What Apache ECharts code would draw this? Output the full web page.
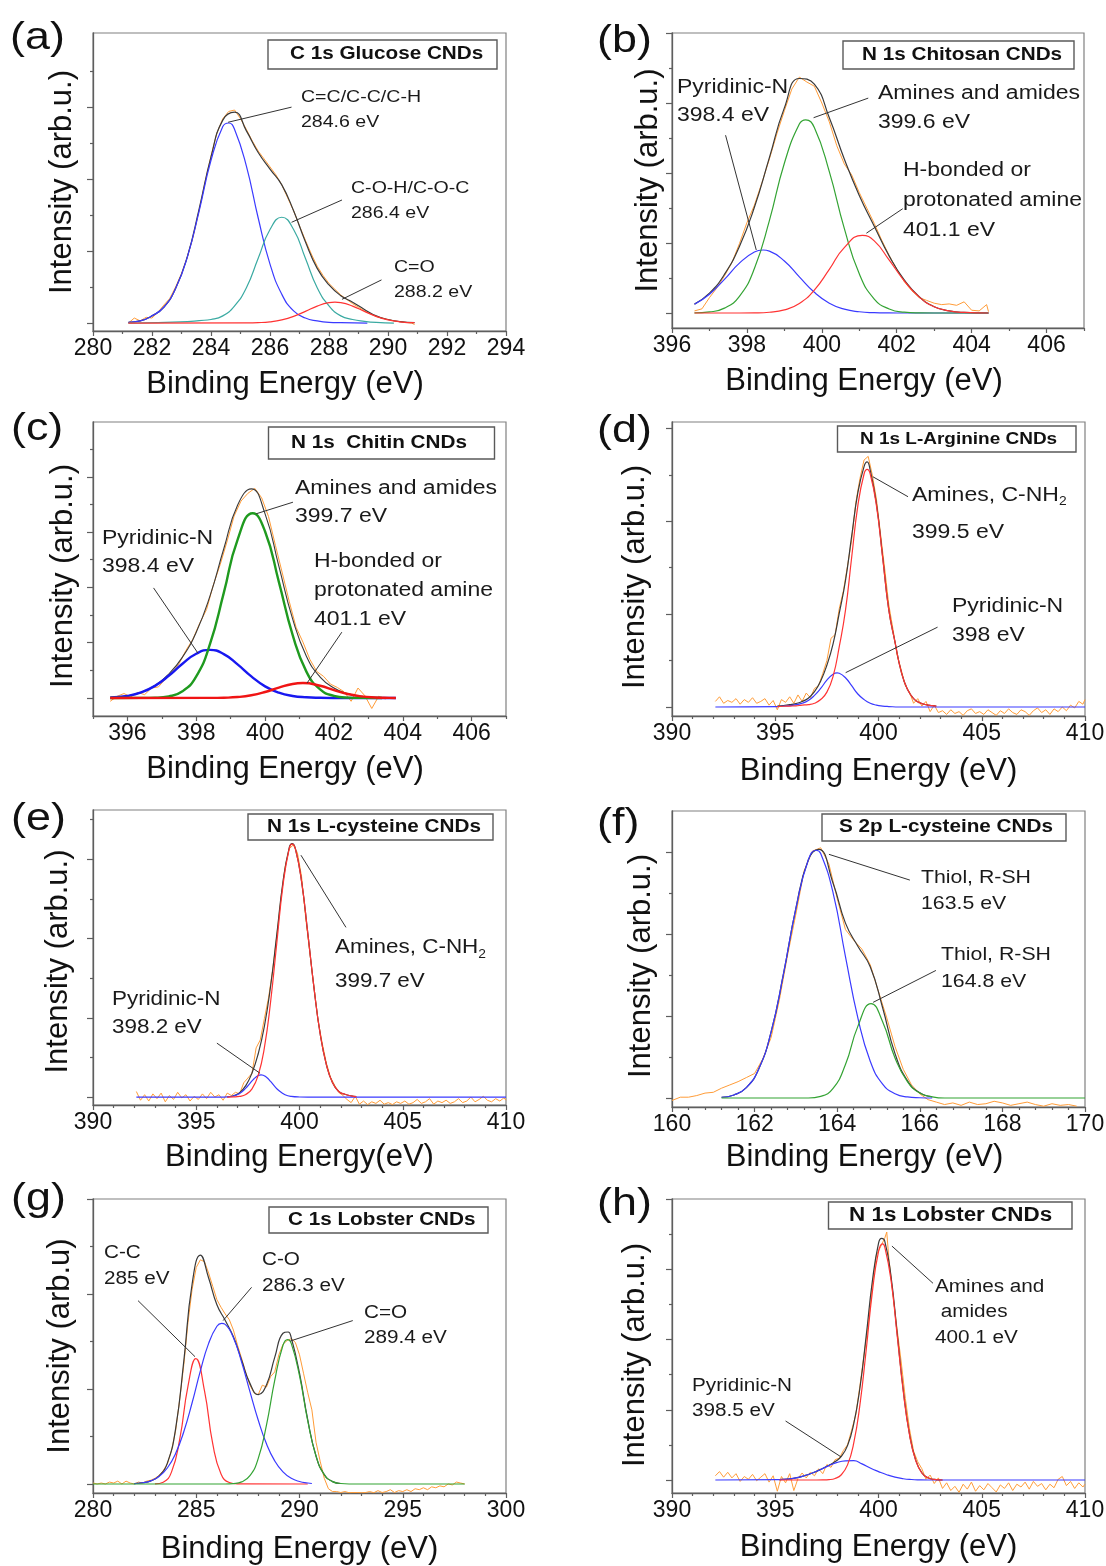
<!DOCTYPE html>
<html><head><meta charset="utf-8">
<script src="https://cdn.jsdelivr.net/npm/echarts/dist/echarts.min.js"></script>
<style>html,body{margin:0;padding:0;background:#fff}#c{width:1106px;height:1566px}</style>
</head><body><div id="c"></div>
<script>
// ===================== DATA =====================
// (a) C 1s Glucose CNDs
const aRaw = [[281.2,0.0],[281.4,0.7],[281.6,0.3],[281.8,0.8],[282.0,0.7],[282.2,1.5],[282.4,2.5],[282.6,3.4],[282.8,5.0],[283.0,6.9],[283.2,9.2],[283.4,12.1],[283.6,15.7],[283.8,19.6],[284.0,23.2],[284.2,26.4],[284.4,28.4],[284.6,29.4],[284.8,29.6],[285.0,28.4],[285.2,26.9],[285.4,25.3],[285.6,23.9],[285.8,22.8],[286.0,21.7],[286.2,20.6],[286.4,19.2],[286.6,17.4],[286.8,15.6],[287.0,13.5],[287.2,11.5],[287.4,9.6],[287.6,7.9],[287.8,6.6],[288.0,5.5],[288.2,4.7],[288.4,3.9],[288.6,3.3],[288.8,2.7],[289.0,2.2],[289.2,1.7],[289.4,1.3],[289.6,0.9],[289.8,0.7],[290.0,0.5],[290.2,0.3],[290.4,0.2],[290.6,0.1],[290.8,0.0],[290.9,-0.2]];
const aFit = [[281.2,0.1],[281.6,0.3],[282.0,1.0],[282.4,2.2],[282.8,4.8],[283.2,9.25],[283.6,15.9],[284.0,23.1],[284.4,28.2],[284.8,29.3],[285.2,26.7],[285.6,23.7],[286.0,21.4],[286.4,19.2],[286.8,15.6],[287.2,11.3],[287.6,7.6],[288.0,5.3],[288.4,3.8],[288.8,2.9],[289.2,1.9],[289.6,1.0],[290.0,0.5],[290.4,0.2],[290.9,0.05]];
const aBlue = [[281.2,0.1],[281.6,0.3],[282.0,1.0],[282.4,2.2],[282.8,4.8],[283.2,9.2],[283.6,15.6],[284.0,22.6],[284.4,27.3],[284.6,27.8],[284.8,26.9],[285.2,21.8],[285.6,14.6],[286.0,8.2],[286.4,4.0],[286.8,1.7],[287.2,0.7],[287.6,0.3],[288.0,0.1],[288.4,0.05],[289.3,0.0]];
const aTeal = [[281.2,0],[283.2,0.2],[283.6,0.35],[284.0,0.5],[284.4,1.0],[284.8,2.4],[285.2,4.9],[285.6,9.0],[286.0,13.0],[286.4,14.7],[286.8,13.0],[287.2,9.0],[287.6,4.9],[288.0,2.4],[288.4,1.0],[288.8,0.5],[289.2,0.25],[289.6,0.1],[290.2,0]];
const aRed = [[281.2,0],[285.2,0.02],[285.6,0.06],[286.0,0.18],[286.4,0.45],[286.8,0.93],[287.2,1.63],[287.6,2.36],[288.0,2.83],[288.2,2.9],[288.4,2.83],[288.8,2.36],[289.2,1.63],[289.6,0.93],[290.0,0.45],[290.4,0.18],[290.9,0.05]];
const aXTicks = [280,282,284,286,288,290,292,294];
const aArrows = [[[286.73,30.0],[284.58,27.9]],[[288.44,17.1],[286.73,14.0]],[[289.78,6.0],[288.44,3.3]]];

// (b) N 1s Chitosan CNDs
const bRaw = [[396.6,0.3],[396.8,0.6],[397.0,2.2],[397.2,3.6],[397.4,5.3],[397.6,7.2],[397.8,9.9],[398.0,12.9],[398.2,15.4],[398.4,18.6],[398.6,22.0],[398.8,25.6],[399.0,28.9],[399.2,32.0],[399.4,33.7],[399.6,33.0],[399.8,32.4],[400.0,30.0],[400.2,27.3],[400.4,23.9],[400.6,21.3],[400.8,19.7],[401.0,17.2],[401.2,15.0],[401.4,12.8],[401.6,10.4],[401.8,8.2],[402.0,6.3],[402.2,4.5],[402.4,3.2],[402.6,2.2],[402.8,1.8],[403.0,1.4],[403.2,1.2],[403.4,1.3],[403.6,1.1],[403.8,1.6],[404.0,0.4],[404.2,0.3],[404.4,1.2],[404.45,0.2]];
const bFit = [[396.6,1.27],[397.0,2.84],[397.4,5.51],[397.8,9.51],[398.2,15.1],[398.6,22.2],[399.0,29.3],[399.4,33.5],[399.8,32.7],[400.2,27.9],[400.6,22.0],[401.0,16.8],[401.4,12.4],[401.8,8.13],[402.2,4.72],[402.6,2.32],[403.0,0.9],[403.4,0.3],[403.8,0.08],[404.45,0.0]];
const bBlue = [[396.6,1.24],[397.0,2.68],[397.4,4.81],[397.8,7.12],[398.2,8.72],[398.43,9.0],[398.6,8.85],[399.0,7.43],[399.4,5.16],[399.8,2.96],[400.2,1.41],[400.6,0.55],[401.0,0.18],[401.4,0.05],[401.8,0.01],[402.2,0],[404.45,0]];
const bGreen = [[396.6,0.03],[397.0,0.16],[397.4,0.70],[397.8,2.39],[398.2,6.35],[398.6,13.2],[399.0,21.4],[399.4,27.0],[399.57,27.6],[399.8,26.5],[400.2,20.2],[400.6,12.1],[401.0,5.6],[401.4,2.0],[401.8,0.57],[402.2,0.12],[402.6,0.02],[403.0,0],[404.45,0]];
const bRed = [[396.6,0],[397.8,0],[398.2,0.02],[398.6,0.11],[399.0,0.44],[399.4,1.36],[399.8,3.28],[400.2,6.24],[400.6,9.35],[401.08,11.1],[401.4,10.3],[401.8,7.55],[402.2,4.6],[402.6,2.3],[403.0,0.9],[403.4,0.3],[403.8,0.08],[404.45,0]];
const bXTicks = [396,398,400,402,404,406];
const bArrows = [[[397.43,25.4],[398.25,9.0]],[[401.24,30.7],[399.78,27.9]],[[402.16,14.9],[401.19,11.4]]];

// (c) N 1s Chitin CNDs
const cRaw = [[395.5,-0.6],[395.7,0.3],[395.9,0.8],[396.1,0.2],[396.3,1.0],[396.5,0.6],[396.7,1.8],[396.9,2.0],[397.1,3.4],[397.3,4.6],[397.5,6.2],[397.7,8.6],[397.9,10.6],[398.1,13.5],[398.3,16.0],[398.5,20.5],[398.7,24.2],[398.9,28.4],[399.1,32.9],[399.3,35.6],[399.5,37.0],[399.7,37.9],[399.9,36.2],[400.1,32.8],[400.3,27.6],[400.5,22.6],[400.7,17.5],[400.9,12.8],[401.1,10.1],[401.3,7.0],[401.5,4.8],[401.7,3.9],[401.9,2.5],[402.1,1.9],[402.3,1.1],[402.5,-0.6],[402.7,1.8],[402.9,0.4],[403.1,-1.9],[403.3,0.3],[403.5,-0.2]];
const cFit = [[395.6,0.12],[396.0,0.38],[396.4,1.01],[396.8,2.24],[397.2,4.30],[397.6,7.39],[398.0,11.9],[398.4,18.47],[398.8,26.98],[399.2,34.85],[399.6,37.8],[400.0,33.28],[400.4,23.83],[400.8,14.29],[401.2,7.56],[401.6,3.78],[402.0,1.82],[402.4,0.79],[402.8,0.29],[403.2,0.09]];
const cBlue = [[395.5,0.1],[396.0,0.38],[396.4,1.0],[396.8,2.19],[397.2,4.01],[397.6,6.19],[398.0,8.0],[398.4,8.7],[398.8,7.93],[399.2,6.08],[399.6,3.91],[400.0,2.1],[400.4,0.96],[400.8,0.36],[401.2,0.12],[401.6,0.03],[402.0,0],[403.8,0]];
const cGreen = [[395.5,0],[396.4,0.01],[396.8,0.05],[397.2,0.29],[397.6,1.2],[398.0,3.9],[398.4,9.76],[398.8,19.0],[399.2,28.6],[399.64,33.4],[400.0,30.1],[400.4,21.0],[400.8,11.4],[401.2,4.77],[401.6,1.54],[402.0,0.39],[402.4,0.07],[402.8,0.01],[403.4,0]];
const cRed = [[395.5,0],[398.4,0.01],[398.8,0.05],[399.2,0.17],[399.6,0.49],[400.0,1.08],[400.4,1.87],[400.8,2.53],[401.1,2.7],[401.6,2.21],[402.0,1.43],[402.4,0.72],[402.8,0.28],[403.2,0.09],[403.6,0.02],[403.8,0]];
const cXTicks = [396,398,400,402,404,406];
const cArrows = [[[400.81,35.4],[399.74,33.3]],[[396.76,19.9],[398.05,8.1]],[[402.23,11.9],[401.22,2.7]]];

// (d) N 1s L-Arginine CNDs
const dRaw = [[392.1,0.6],[392.3,1.1],[392.5,0.4],[392.7,0.7],[392.9,0.5],[393.1,0.9],[393.3,0.3],[393.5,0.8],[393.7,0.5],[393.9,1.0],[394.1,0.4],[394.3,0.6],[394.5,0.9],[394.7,0.2],[394.9,0.7],[395.1,-0.3],[395.3,0.8],[395.5,0.5],[395.7,1.1],[395.9,0.4],[396.1,1.3],[396.3,0.6],[396.5,1.5],[396.7,1.0],[396.9,2.0],[397.1,2.3],[397.3,3.6],[397.5,5.0],[397.7,7.4],[397.9,7.8],[398.1,10.6],[398.3,12.5],[398.5,15.2],[398.7,18.0],[398.9,22.0],[399.1,24.6],[399.3,26.6],[399.5,27.0],[399.7,25.0],[399.9,22.4],[400.1,18.6],[400.3,14.9],[400.5,11.0],[400.7,8.4],[400.9,5.6],[401.1,4.0],[401.3,2.3],[401.5,1.6],[401.7,0.4],[401.9,0.9],[402.1,0.1],[402.3,0.6],[402.5,-0.5],[402.7,0.2],[402.9,-0.6],[403.1,-0.4],[403.3,-0.8],[403.5,-0.3],[403.7,-0.7],[403.9,-0.5],[404.1,-0.9],[404.3,-0.4],[404.5,-0.2],[404.7,-0.7],[404.9,-0.5],[405.1,-0.8],[405.3,-0.3],[405.5,-0.6],[405.7,-0.9],[405.9,-0.4],[406.1,-0.7],[406.3,-0.2],[406.5,-0.6],[406.7,-0.8],[406.9,-0.3],[407.1,-0.5],[407.3,-0.9],[407.5,-0.4],[407.7,-0.1],[407.9,-0.6],[408.1,-0.3],[408.3,-0.8],[408.5,-0.2],[408.7,-0.5],[408.9,0.0],[409.1,-0.4],[409.3,0.2],[409.5,-0.1],[409.7,0.6],[409.9,0.3],[410.0,0.8]];
const dFit = [[395.1,0.1],[395.4,0.16],[395.7,0.25],[396.0,0.37],[396.3,0.6],[396.6,0.95],[396.9,1.65],[397.2,2.8],[397.5,4.5],[397.8,6.8],[398.1,10.1],[398.4,13.6],[398.7,18.4],[399.0,23.1],[399.3,25.9],[399.45,26.4],[399.6,25.5],[399.9,21.9],[400.2,16.2],[400.5,10.45],[400.8,7.0],[401.1,3.8],[401.4,1.9],[401.7,0.9],[402.0,0.45],[402.3,0.25],[402.6,0.15],[402.8,0.1]];
const dBlue = [[392.1,0],[395.1,0.05],[395.7,0.15],[396.0,0.25],[396.3,0.4],[396.6,0.7],[396.9,1.25],[397.2,2.0],[397.5,2.89],[397.8,3.53],[398.0,3.67],[398.1,3.63],[398.4,3.15],[398.7,2.29],[399.0,1.4],[399.3,0.8],[399.6,0.4],[399.9,0.2],[400.2,0.1],[400.5,0.05],[401.0,0],[410,0]];
const dRed = [[395.1,0.05],[395.4,0.08],[395.7,0.1],[396.0,0.12],[396.3,0.2],[396.6,0.25],[396.9,0.4],[397.2,0.8],[397.5,1.6],[397.8,3.3],[398.1,6.5],[398.4,10.4],[398.7,16.1],[399.0,21.7],[399.3,25.1],[399.45,25.6],[399.6,25.1],[399.9,21.7],[400.2,16.1],[400.5,10.4],[400.8,7.0],[401.1,3.8],[401.4,1.9],[401.7,0.9],[402.0,0.45],[402.3,0.25],[402.6,0.15],[402.8,0.1]];
const dXTicks = [390,395,400,405,410];
const dArrows = [[[401.43,22.65],[399.73,24.8]],[[402.86,8.6],[398.41,3.7]]];

// (e) N 1s L-cysteine CNDs
const eRaw = [[392.1,0.7],[392.3,-0.4],[392.5,0.3],[392.7,-0.5],[392.9,0.4],[393.1,-0.2],[393.3,0.5],[393.5,-0.6],[393.7,0.2],[393.9,-0.3],[394.1,0.6],[394.3,-0.1],[394.5,0.3],[394.7,-0.5],[394.9,0.1],[395.1,-0.3],[395.3,0.4],[395.5,-0.2],[395.7,0.6],[395.9,0.0],[396.1,0.3],[396.3,-0.4],[396.5,0.5],[396.7,0.2],[396.9,0.6],[397.1,0.4],[397.3,1.8],[397.5,2.4],[397.7,3.0],[397.9,6.2],[398.1,7.2],[398.3,9.9],[398.5,12.5],[398.7,16.0],[398.9,20.3],[399.1,25.0],[399.3,29.0],[399.5,31.3],[399.7,31.8],[399.9,30.8],[400.1,27.8],[400.3,22.6],[400.5,18.2],[400.7,13.9],[400.9,9.6],[401.1,6.8],[401.3,4.3],[401.5,2.5],[401.7,1.5],[401.9,0.6],[402.1,0.2],[402.3,-0.3],[402.5,-0.7],[402.7,0.1],[402.9,-0.9],[403.1,-0.5],[403.3,-0.95],[403.5,-0.6],[403.7,-0.8],[403.9,-0.4],[404.1,-0.9],[404.3,-0.7],[404.5,-0.95],[404.7,-0.6],[404.9,-0.8],[405.1,-0.5],[405.3,-0.9],[405.5,-0.7],[405.7,-0.3],[405.9,-0.8],[406.1,-0.6],[406.3,-0.2],[406.5,-0.9],[406.7,-0.5],[406.9,-0.7],[407.1,-0.4],[407.3,-0.8],[407.5,-0.6],[407.7,-0.2],[407.9,-0.7],[408.1,-0.5],[408.3,0.0],[408.5,-0.6],[408.7,-0.3],[408.9,0.1],[409.1,-0.4],[409.3,-0.6],[409.5,-0.2],[409.7,-0.5],[409.9,-0.1],[410.0,-0.4]];
const eFit = [[396.5,0.03],[396.8,0.16],[397.1,0.55],[397.4,1.45],[397.7,3.04],[398.0,5.46],[398.3,8.93],[398.6,13.97],[398.9,20.48],[399.2,27.15],[399.5,31.43],[399.64,31.95],[399.8,31.34],[400.1,27.2],[400.4,20.7],[400.7,13.8],[401.0,8.0],[401.3,4.1],[401.6,1.8],[401.9,0.7],[402.2,0.35],[402.5,0.15],[402.75,0.05]];
const eBlue = [[392.1,0],[396.2,0],[396.5,0.03],[396.8,0.14],[397.1,0.46],[397.4,1.12],[397.6,1.72],[397.8,2.31],[398.0,2.71],[398.14,2.8],[398.4,2.5],[398.6,1.97],[398.8,1.35],[399.0,0.82],[399.3,0.3],[399.6,0.08],[400.0,0.01],[400.4,0],[410,0]];
const eRed = [[396.5,0],[396.8,0.02],[397.1,0.09],[397.4,0.33],[397.7,1.04],[398.0,2.75],[398.3,6.23],[398.6,12.0],[398.9,19.4],[399.2,26.7],[399.5,31.3],[399.64,31.9],[399.8,31.3],[400.1,27.2],[400.4,20.7],[400.7,13.8],[401.0,8.0],[401.3,4.1],[401.6,1.8],[401.9,0.7],[402.2,0.35],[402.5,0.15],[402.75,0.05]];
const eXTicks = [390,395,400,405,410];
const eArrows = [[[402.25,21.4],[400.07,30.5]],[[396.0,6.8],[398.09,3.0]]];

// (f) S 2p L-cysteine CNDs
const fRaw = [[160.0,-0.3],[160.2,0.1],[160.4,0.1],[160.6,0.3],[160.8,0.6],[161.0,0.7],[161.2,1.2],[161.4,1.6],[161.6,2.0],[161.8,2.5],[162.0,3.0],[162.2,4.8],[162.4,7.4],[162.6,12.0],[162.8,17.5],[163.0,22.5],[163.2,27.8],[163.4,30.2],[163.6,30.6],[163.8,28.6],[164.0,24.4],[164.2,20.6],[164.4,19.3],[164.6,18.2],[164.8,16.3],[165.0,13.0],[165.2,9.8],[165.4,6.3],[165.6,3.5],[165.8,1.6],[166.0,0.5],[166.2,-0.2],[166.4,-0.5],[166.6,-0.8],[166.8,-0.6],[167.0,-0.9],[167.2,-0.5],[167.4,-0.8],[167.6,-0.7],[167.8,-0.4],[168.0,-0.6],[168.2,-0.9],[168.4,-0.7],[168.6,-0.5],[168.8,-0.8],[169.0,-1.0],[169.2,-0.7],[169.4,-0.9],[169.6,-0.8],[169.8,-1.0]];
const fFit = [[161.2,0.09],[161.5,0.37],[161.8,1.27],[162.1,3.54],[162.4,8.09],[162.7,15.2],[163.0,23.2],[163.3,29.1],[163.55,30.4],[163.9,26.27],[164.2,21.39],[164.5,18.56],[164.8,16.05],[165.1,11.04],[165.4,5.43],[165.7,2.13],[166.0,0.63],[166.3,0.15]];
const fBlue = [[161.2,0.09],[161.5,0.37],[161.8,1.27],[162.1,3.54],[162.4,8.09],[162.7,15.2],[163.0,23.2],[163.3,29.1],[163.49,30.3],[163.6,29.9],[163.9,25.1],[164.2,17.3],[164.5,9.8],[164.8,4.5],[165.1,1.7],[165.4,0.53],[165.7,0.13],[166.0,0.03],[166.3,0]];
const fGreen = [[161.2,0],[163.3,0],[163.6,0.2],[163.9,1.17],[164.2,4.09],[164.5,8.76],[164.82,11.55],[165.1,9.34],[165.4,4.9],[165.7,2.0],[166.0,0.6],[166.3,0.15],[166.6,0],[170,0]];
const fXTicks = [160,162,164,166,168,170];
const fArrows = [[[165.76,26.65],[163.8,29.8]],[[166.39,15.6],[164.87,11.7]]];

// (g) C 1s Lobster CNDs
const gRaw = [[280.0,0.1],[280.2,0.0],[280.4,0.1],[280.6,0.0],[280.8,0.2],[281.0,0.1],[281.2,0.3],[281.4,0.0],[281.6,0.3],[281.8,0.1],[282.0,0.0],[282.2,0.2],[282.4,0.1],[282.6,0.3],[282.8,0.4],[283.0,0.6],[283.2,0.9],[283.4,1.4],[283.6,2.1],[283.8,3.5],[284.0,5.6],[284.2,8.9],[284.4,12.6],[284.6,17.0],[284.8,20.5],[285.0,22.8],[285.2,23.6],[285.4,23.4],[285.6,22.2],[285.8,20.8],[286.0,19.4],[286.2,18.6],[286.4,17.9],[286.6,17.3],[286.8,16.2],[287.0,14.6],[287.2,13.2],[287.4,11.7],[287.6,10.4],[287.8,9.6],[288.0,9.4],[288.2,10.4],[288.4,10.2],[288.6,11.3],[288.8,11.8],[289.0,13.6],[289.2,14.7],[289.4,15.1],[289.6,15.3],[289.8,14.9],[290.0,13.6],[290.2,11.6],[290.4,9.6],[290.6,7.8],[290.8,4.4],[291.0,2.4],[291.2,0.6],[291.4,-0.5],[291.6,-0.8],[291.8,-0.8],[292.0,-0.9],[292.2,-0.8],[292.4,-0.92],[292.6,-0.9],[292.8,-0.9],[293.0,-0.92],[293.2,-0.9],[293.4,-0.8],[293.6,-0.92],[293.8,-0.7],[294.0,-0.9],[294.2,-0.8],[294.4,-0.6],[294.6,-0.9],[294.8,-0.7],[295.0,-0.8],[295.2,-0.6],[295.4,-0.8],[295.6,-0.5],[295.8,-0.6],[296.0,-0.4],[296.2,-0.6],[296.4,-0.3],[296.6,-0.4],[296.8,-0.2],[297.0,-0.3],[297.2,0.0],[297.4,-0.1],[297.6,0.2],[297.8,0.1],[298.0,0.0]];
const gFit = [[282.0,0.04],[282.4,0.13],[282.8,0.33],[283.2,0.85],[283.6,2.2],[284.0,5.81],[284.4,13.0],[284.8,21.05],[285.2,24.1],[285.6,21.68],[286.0,18.87],[286.4,17.23],[286.8,15.49],[287.2,13.02],[287.6,10.59],[288.0,9.4],[288.4,10.43],[288.8,13.33],[289.2,15.87],[289.45,16.0],[289.6,15.4],[290.0,11.66],[290.4,6.74],[290.8,2.95],[291.2,0.99],[291.6,0.25],[292.0,0.05]];
const gRed = [[283.0,0.02],[283.4,0.19],[283.8,1.25],[284.2,4.71],[284.6,10.3],[284.98,13.2],[285.4,9.79],[285.8,4.22],[286.2,1.06],[286.6,0.15],[287.0,0.01],[290.4,0]];
const gBlue = [[282.0,0.04],[282.4,0.13],[282.8,0.33],[283.2,0.79],[283.6,1.68],[284.0,3.22],[284.4,5.53],[284.8,8.55],[285.2,11.9],[285.6,14.8],[286.0,16.6],[286.23,16.9],[286.4,16.8],[286.8,15.4],[287.2,12.8],[287.6,9.72],[288.0,6.73],[288.4,4.23],[288.8,2.43],[289.2,1.27],[289.6,0.6],[290.0,0.26],[290.4,0.1],[290.6,0.05]];
const gGreen = [[280.0,0],[286.4,0],[286.8,0.04],[287.2,0.22],[287.6,0.87],[288.0,2.67],[288.4,6.2],[288.8,10.9],[289.2,14.6],[289.42,15.2],[289.6,14.8],[290.0,11.4],[290.4,6.64],[290.8,2.95],[291.2,0.99],[291.6,0.25],[292.0,0.05],[292.4,0],[298.0,0]];
const gXTicks = [280,285,290,295,300];
const gArrows = [[[282.18,19.3],[284.94,13.4]],[[287.68,20.7],[286.3,17.2]],[[292.58,17.2],[289.56,15.05]]];

// (h) N 1s Lobster CNDs
const hRaw = [[392.1,0.6],[392.3,1.2],[392.5,0.4],[392.7,1.1],[392.9,0.3],[393.1,0.9],[393.3,-0.2],[393.5,0.5],[393.7,0.1],[393.9,0.8],[394.1,-0.1],[394.3,0.4],[394.5,0.9],[394.7,-0.3],[394.9,0.6],[395.1,-1.6],[395.3,0.5],[395.5,-0.4],[395.7,0.9],[395.9,-1.5],[396.1,0.2],[396.3,1.0],[396.5,0.3],[396.7,1.1],[396.9,0.6],[397.1,1.6],[397.3,0.9],[397.5,2.2],[397.7,1.8],[397.9,2.9],[398.1,3.1],[398.3,4.2],[398.5,5.0],[398.7,7.1],[398.9,9.3],[399.1,13.4],[399.3,17.8],[399.5,22.0],[399.7,27.6],[399.9,32.0],[400.1,33.2],[400.3,34.4],[400.4,35.3],[400.5,31.6],[400.7,26.3],[400.9,21.5],[401.1,16.8],[401.3,11.6],[401.5,7.3],[401.7,4.1],[401.9,2.6],[402.1,1.6],[402.3,0.1],[402.5,0.7],[402.7,-0.5],[402.9,0.3],[403.1,-1.2],[403.3,-0.4],[403.5,-1.5],[403.7,-0.9],[403.9,-1.75],[404.1,-0.6],[404.3,-1.3],[404.5,-0.3],[404.7,-1.6],[404.9,-0.8],[405.1,-1.4],[405.3,-0.5],[405.5,-1.1],[405.7,-1.7],[405.9,-0.7],[406.1,-1.2],[406.3,-0.4],[406.5,-1.5],[406.7,-0.6],[406.9,-1.0],[407.1,-0.3],[407.3,-1.3],[407.5,-0.2],[407.7,-0.9],[407.9,-0.5],[408.1,-1.4],[408.3,-0.6],[408.5,-1.1],[408.7,0.1],[408.9,0.5],[409.1,-0.8],[409.3,-0.2],[409.5,-1.2],[409.7,-0.4],[409.9,-1.0],[410.0,-0.6]];
const hFit = [[395.2,0.05],[395.6,0.12],[396.0,0.3],[396.4,0.6],[396.8,1.0],[397.2,1.51],[397.6,2.1],[397.9,2.62],[398.2,3.37],[398.5,4.89],[398.8,7.99],[399.1,13.1],[399.4,20.4],[399.7,28.25],[400.0,33.7],[400.15,34.4],[400.3,34.05],[400.6,29.15],[400.9,21.0],[401.2,12.78],[401.5,6.55],[401.8,2.84],[402.1,1.02],[402.4,0.31],[402.7,0.08],[403.1,0]];
const hBlue = [[392.1,0],[395.2,0.05],[395.6,0.12],[396.0,0.3],[396.4,0.6],[396.8,1.0],[397.2,1.5],[397.6,2.05],[398.0,2.5],[398.4,2.72],[398.8,2.75],[399.2,2.3],[399.6,1.7],[400.0,1.2],[400.4,0.75],[400.8,0.4],[401.2,0.18],[401.6,0.07],[402.0,0.02],[402.4,0],[410,0]];
const hRed = [[395.2,0],[397.0,0],[397.3,0.01],[397.6,0.05],[397.9,0.22],[398.2,0.75],[398.5,2.15],[398.8,5.24],[399.1,10.7],[399.4,18.4],[399.7,26.7],[400.0,32.5],[400.19,33.6],[400.3,33.2],[400.6,28.6],[400.9,20.7],[401.2,12.6],[401.5,6.45],[401.8,2.79],[402.1,1.0],[402.4,0.31],[402.7,0.08],[403.1,0]];
const hXTicks = [390,395,400,405,410];
const hArrows = [[[402.64,28.0],[400.65,33.3]],[[395.5,8.4],[398.18,3.3]]];

// ===================== STYLE / LAYOUT =====================
const F = '"Liberation Sans", Arial, Helvetica, sans-serif';
const SX = 1.15;
const ORANGE = '#ff9c38', FIT = '#3a3a3a', BLUE = '#3a3aff', TEAL = '#3aaaa2', GREEN = '#33a333', RED = '#ff3333';
const AX = '#5e5e5e', FRAME = '#808080';

function minorTicks(min, max, step, majors) {
  const out = [];
  for (let v = min; v <= max + 1e-9; v += step) {
    const r = Math.round(v * 1000) / 1000;
    if (!majors.some(m => Math.abs(m - r) < 1e-6)) out.push(r);
  }
  return out;
}

const P = [
  {g:[93,33,413,298], x:[280,294], y:[-1.1,40.3], xt:aXTicks, xm:minorTicks(280,294,1,aXTicks), yt:[0,10,20,30], ym:[5,15,25,35],
   xn:'Binding Energy (eV)', xg:38, xs:29, yn:'Intensity (arb.u.)', yg:15, ys:0,
   s:[[aRaw,ORANGE,1,0],[aFit,FIT,1.2,1],[aBlue,BLUE,1.2,1],[aTeal,TEAL,1.2,1],[aRed,RED,1.2,1]], arrows:aArrows,
   lab:['(a)',10,38], box:[268,40,229,29,'C 1s Glucose CNDs',290,18],
   notes:[['C=C/C-C/C-H\n284.6 eV',301,84.5,17,25],['C-O-H/C-O-C\n286.4 eV',351,175.5,17,25],['C=O\n288.2 eV',394,254.5,17,25.5]]},
  {g:[672,33,412,295], x:[396,407], y:[-2.14,40], xt:bXTicks, xm:minorTicks(396,407,1,bXTicks), yt:[0,10,20,30,40], ym:[5,15,25,35],
   xn:'Binding Energy (eV)', xg:38, xs:28, yn:'Intensity (arb.u.)', yg:8, ys:0,
   s:[[bRaw,ORANGE,1,0],[bFit,FIT,1.2,1],[bBlue,BLUE,1.2,1],[bGreen,GREEN,1.2,1],[bRed,RED,1.2,1]], arrows:bArrows,
   lab:['(b)',597,41], box:[843,41,231,28,'N 1s Chitosan CNDs',862,18],
   notes:[['Pyridinic-N\n398.4 eV',677,73,20,28],['Amines and amides\n399.6 eV',878,79,20,29],['H-bonded or\nprotonated amine\n401.1 eV',903,155,20,30]]},
  {g:[93,422,413,294], x:[395,407], y:[-3.26,49.9], xt:cXTicks, xm:minorTicks(395,407,1,cXTicks), yt:[0,10,20,30,40], ym:[5,15,25,35,45],
   xn:'Binding Energy (eV)', xg:38, xs:29, yn:'Intensity (arb.u.)', yg:14, ys:7,
   s:[[cRaw,ORANGE,1,0],[cFit,FIT,1.1,1],[cBlue,'#1818f0',2.4,1],[cGreen,'#1f9a1f',2.4,1],[cRed,'#f01414',2.4,1]], arrows:cArrows,
   lab:['(c)',11,429], box:[268.5,427,226,32,'N 1s  Chitin CNDs',291,18],
   notes:[['Amines and amides\n399.7 eV',295,474,20,28],['Pyridinic-N\n398.4 eV',102,524,20,28],['H-bonded or\nprotonated amine\n401.1 eV',314,546.5,20,29]]},
  {g:[672,422,413,294], x:[390,410], y:[-0.97,30.7], xt:dXTicks, xm:minorTicks(390,410,1,dXTicks), yt:[0,10,20,30], ym:[5,15,25],
   xn:'Binding Energy (eV)', xg:40, xs:0, yn:'Intensity (arb.u.)', yg:21, ys:8,
   s:[[dRaw,ORANGE,1,0],[dFit,FIT,1.2,1],[dBlue,BLUE,1.2,1],[dRed,RED,1.2,1]], arrows:dArrows,
   lab:['(d)',597,431], box:[837.5,426,238.5,26,'N 1s L-Arginine CNDs',860,16.5],
   notes:[['Amines, C-NH{sub|2}\n399.5 eV',912,476.5,20,37],['Pyridinic-N\n398 eV',952,591.5,20,29]]},
  {g:[93,810,413,295], x:[390,410], y:[-1.0,36.2], xt:eXTicks, xm:minorTicks(390,410,1,eXTicks), yt:[0,10,20,30], ym:[5,15,25,35],
   xn:'Binding Energy(eV)', xg:37, xs:0, yn:'Intensity (arb.u.)', yg:19, ys:4,
   s:[[eRaw,ORANGE,1,0],[eFit,FIT,1.2,1],[eBlue,BLUE,1.2,1],[eRed,RED,1.2,1]], arrows:eArrows,
   lab:['(e)',11,819], box:[248,814,245,26,'N 1s L-cysteine CNDs',267,18],
   notes:[['Amines, C-NH{sub|2}\n399.7 eV',335,931,19.5,34],['Pyridinic-N\n398.2 eV',112,986,19.5,28]]},
  {g:[672,811,413,296], x:[160,170], y:[-1.1,35.1], xt:fXTicks, xm:minorTicks(160,170,0.4,fXTicks), yt:[0,10,20,30], ym:[5,15,25],
   xn:'Binding Energy (eV)', xg:35, xs:28, yn:'Intensity (arb.u.)', yg:15, ys:7,
   s:[[fRaw,ORANGE,1,0],[fFit,FIT,1.2,1],[fBlue,BLUE,1.2,1],[fGreen,GREEN,1.2,1]], arrows:fArrows,
   lab:['(f)',597,824], box:[822,814,244,27,'S 2p L-cysteine CNDs',839,18],
   notes:[['Thiol, R-SH\n163.5 eV',921,865,18.5,26],['Thiol, R-SH\n164.8 eV',941,941.5,18.5,27]]},
  {g:[93,1199,413,294], x:[280,300], y:[-0.95,30], xt:gXTicks, xm:minorTicks(280,300,1,gXTicks), yt:[0,10,20,30], ym:[5,15,25],
   xn:'Binding Energy (eV)', xg:41, xs:0, yn:'Intensity (arb.u)', yg:17, ys:0,
   s:[[gRaw,ORANGE,1,0],[gFit,FIT,1.2,1],[gRed,RED,1.2,1],[gBlue,BLUE,1.2,1],[gGreen,GREEN,1.2,1]], arrows:gArrows,
   lab:['(g)',11,1199], box:[269,1207,219,26,'C 1s Lobster CNDs',288,18],
   notes:[['C-C\n285 eV',104,1240,18,26],['C-O\n286.3 eV',262,1247,18,26],['C=O\n289.4 eV',364,1300.5,18,25]]},
  {g:[672,1199,413,294], x:[390,410], y:[-1.85,40], xt:hXTicks, xm:minorTicks(390,410,1,hXTicks), yt:[0,10,20,30,40], ym:[5,15,25,35],
   xn:'Binding Energy (eV)', xg:39, xs:0, yn:'Intensity (arb.u.)', yg:21, ys:9,
   s:[[hRaw,ORANGE,1,0],[hFit,FIT,1.2,1],[hBlue,BLUE,1.2,1],[hRed,RED,1.2,1]], arrows:hArrows,
   lab:['(h)',597,1204], box:[828.5,1202,243.5,27,'N 1s Lobster CNDs',849,19.5],
   notes:[['Amines and\n amides\n400.1 eV',935,1274,18,25.5],['Pyridinic-N\n398.5 eV',692,1373.5,18,25]]}
];

const option = {animation:false, backgroundColor:'#ffffff', grid:[], xAxis:[], yAxis:[], series:[], graphic:{elements:[]}};
const tickStyle = {color: AX, width: 1.2};

P.forEach((p, i) => {
  option.grid.push({left:p.g[0], top:p.g[1], width:p.g[2], height:p.g[3], show:true, borderColor:FRAME, borderWidth:1.2,
    backgroundColor:'transparent', containLabel:false, outerBoundsMode:'none'});
  option.xAxis.push({gridIndex:i, type:'value', min:p.x[0], max:p.x[1], position:'bottom',
    name:p.xn, nameLocation:'middle', nameGap:p.xg, nameMoveOverlap:false,
    nameTextStyle:{fontSize:31, fontFamily:F, color:'#111', padding:[0,p.xs,0,0]},
    axisLine:{show:true, onZero:false, lineStyle:{color:AX, width:1.3}},
    axisTick:{show:true, inside:false, length:5, customValues:p.xt, lineStyle:tickStyle},
    axisLabel:{show:true, customValues:p.xt, fontSize:23, fontFamily:F, color:'#111', margin:6, formatter:v => String(v)},
    splitLine:{show:false}, minorTick:{show:false}});
  option.xAxis.push({gridIndex:i, type:'value', min:p.x[0], max:p.x[1], position:'bottom',
    axisLine:{show:false, onZero:false}, axisTick:{show:true, inside:false, length:3, customValues:p.xm, lineStyle:tickStyle},
    axisLabel:{show:false}, splitLine:{show:false}});
  option.yAxis.push({gridIndex:i, type:'value', min:p.y[0], max:p.y[1], position:'left',
    name:p.yn, nameLocation:'middle', nameGap:p.yg, nameMoveOverlap:false,
    nameTextStyle:{fontSize:31, fontFamily:F, color:'#111', padding:[0, p.ys > 0 ? 2*p.ys : 0, 0, p.ys < 0 ? -2*p.ys : 0]},
    axisLine:{show:true, onZero:false, lineStyle:{color:AX, width:1.3}},
    axisTick:{show:true, inside:false, length:6, customValues:p.yt, lineStyle:tickStyle},
    axisLabel:{show:false}, splitLine:{show:false}});
  option.yAxis.push({gridIndex:i, type:'value', min:p.y[0], max:p.y[1], position:'left',
    axisLine:{show:false, onZero:false}, axisTick:{show:true, inside:false, length:3, customValues:p.ym, lineStyle:tickStyle},
    axisLabel:{show:false}, splitLine:{show:false}});

  p.s.forEach((s, k) => {
    const ser = {type:'line', xAxisIndex:2*i, yAxisIndex:2*i, data:s[0], showSymbol:false, symbol:'none',
      smooth: s[3] ? 0.5 : false, sampling:null, silent:true,
      lineStyle:{color:s[1], width:s[2]}, itemStyle:{color:s[1]}, emphasis:{disabled:true}};
    if (k === 1) {
      ser.markLine = {silent:true, animation:false, symbol:['none','arrow'], symbolSize:[0,9],
        label:{show:false}, emphasis:{disabled:true},
        lineStyle:{color:'#333', width:1, type:'solid'},
        data: p.arrows.map(a => [{coord:a[0]}, {coord:a[1]}])};
    }
    option.series.push(ser);
  });

  const E = option.graphic.elements;
  E.push({type:'text', x:p.lab[1], y:p.lab[2] - 21, scaleX:SX, z:100,
    style:{text:p.lab[0], fontSize:39, fontFamily:F, fill:'#111', lineHeight:42, align:'left', verticalAlign:'top'}});
  const b = p.box;
  E.push({type:'rect', shape:{x:b[0], y:b[1], width:b[2], height:b[3]}, z:100,
    style:{fill:'#fff', stroke:'#5a5a5a', lineWidth:1.4}});
  E.push({type:'text', x:b[5], y:b[1] + b[3]/2 - 11, scaleX:SX, z:101,
    style:{text:b[4], fontSize:b[6], fontWeight:'bold', fontFamily:F, fill:'#111', lineHeight:22, align:'left', verticalAlign:'top'}});
  p.notes.forEach(n => {
    E.push({type:'text', x:n[1], y:n[2], scaleX:SX, z:101,
      style:{text:n[0], fontSize:n[3], fontFamily:F, fill:'#1a1a1a', lineHeight:n[4], align:'left', verticalAlign:'top',
        rich:{sub:{fontSize:12, fontFamily:F, fill:'#1a1a1a', lineHeight:12, padding:[13,0,0,0]}}}});
  });
});

const chart = echarts.init(document.getElementById('c'), null, {renderer:'canvas', width:1106, height:1566});
chart.setOption(option);
</script></body></html>
